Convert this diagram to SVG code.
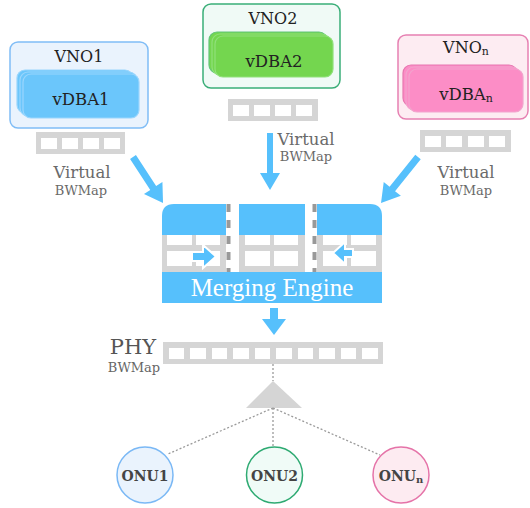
<svg xmlns="http://www.w3.org/2000/svg" width="530" height="508" viewBox="0 0 530 508">
<style>
.lbl{font-family:"DejaVu Serif","Liberation Serif",serif;fill:#222;text-anchor:middle}
.vt{font-family:"DejaVu Serif","Liberation Serif",serif;fill:#6a6a6a;text-anchor:middle}
.bm{fill:#d5d5d5}
.cell{fill:#fff}
.blue{fill:#56c0fc}
.dot{stroke:#9a9a9a;stroke-width:1.3;stroke-dasharray:2 2;fill:none}
.onu{font-family:"DejaVu Serif","Liberation Serif",serif;font-weight:bold;font-size:14px;fill:#444;text-anchor:middle}
</style>
<rect width="530" height="508" fill="#fff"/>

<g id="vno1">
<rect x="10" y="42" width="138" height="86" rx="8" fill="#eaf3fd" stroke="#80bdf6" stroke-width="1.5"/>
<text class="lbl" x="79" y="62" font-size="16">VNO1</text>
<rect x="17" y="70" width="116" height="43" rx="8" fill="#6bc6fb" stroke="#9ad6fd" stroke-width="1.2"/>
<rect x="20" y="72" width="117" height="44" rx="8" fill="#6bc6fb" stroke="#9ad6fd" stroke-width="1.2"/>
<rect x="23" y="74" width="116" height="44" rx="8" fill="#6bc6fb" stroke="#9ad6fd" stroke-width="1.2"/>
<text class="lbl" x="81" y="105" font-size="16.5">vDBA1</text>
</g>

<g id="vno2">
<rect x="203" y="4" width="137" height="84" rx="8" fill="#f0faf6" stroke="#3aae78" stroke-width="1.5"/>
<text class="lbl" x="273" y="24" font-size="16">VNO2</text>
<rect x="209" y="32" width="118" height="41" rx="8" fill="#74d64f" stroke="#63c47a" stroke-width="1.2"/>
<rect x="212" y="34" width="118" height="41" rx="8" fill="#74d64f" stroke="#8fe07a" stroke-width="1.2"/>
<rect x="215" y="36" width="118" height="41" rx="8" fill="#74d64f" stroke="#8fe07a" stroke-width="1.2"/>
<text class="lbl" x="274" y="67" font-size="16.5">vDBA2</text>
</g>

<g id="vnon">
<rect x="398" y="35" width="130" height="84" rx="8" fill="#fdecf2" stroke="#e680b2" stroke-width="1.5"/>
<text class="lbl" x="466" y="53" font-size="16">VNO<tspan font-size="11" dy="2">n</tspan></text>
<rect x="403" y="65" width="114" height="41" rx="8" fill="#fc8dc6" stroke="#e677b0" stroke-width="1.2"/>
<rect x="406" y="67" width="114" height="43" rx="8" fill="#fc8dc6" stroke="#f2a3cd" stroke-width="1.2"/>
<rect x="409" y="69" width="114" height="43" rx="8" fill="#fc8dc6" stroke="#f2a3cd" stroke-width="1.2"/>
<text class="lbl" x="466" y="100" font-size="16.5">vDBA<tspan font-size="11" dy="2">n</tspan></text>
</g>

<g id="bwmap1">
<rect class="bm" x="36" y="132" width="89" height="22"/>
<rect class="cell" x="41" y="138" width="16" height="11"/>
<rect class="cell" x="62" y="138" width="16" height="11"/>
<rect class="cell" x="83" y="138" width="16" height="11"/>
<rect class="cell" x="104" y="138" width="16" height="11"/>
<text class="vt" x="82" y="178" font-size="16.5">Virtual</text>
<text class="vt" x="81" y="195" font-size="13">BWMap</text>
</g>

<g id="bwmap2">
<rect class="bm" x="228" y="99" width="90" height="22"/>
<rect class="cell" x="233" y="105" width="16" height="11"/>
<rect class="cell" x="254" y="105" width="16" height="11"/>
<rect class="cell" x="275" y="105" width="16" height="11"/>
<rect class="cell" x="296" y="105" width="16" height="11"/>
<text class="vt" x="306" y="145" font-size="16.5">Virtual</text>
<text class="vt" x="306" y="161" font-size="13">BWMap</text>
</g>

<g id="bwmapn">
<rect class="bm" x="420" y="130" width="91" height="22"/>
<rect class="cell" x="425" y="136" width="16" height="11"/>
<rect class="cell" x="446" y="136" width="16" height="11"/>
<rect class="cell" x="468" y="136" width="16" height="11"/>
<rect class="cell" x="489" y="136" width="16" height="11"/>
<text class="vt" x="466" y="178" font-size="16.5">Virtual</text>
<text class="vt" x="466" y="195" font-size="13">BWMap</text>
</g>

<g id="merging-engine">
<!-- grid sections -->
<rect class="bm" x="162" y="234" width="64" height="38"/>
<rect class="bm" x="239" y="234" width="66" height="38"/>
<rect class="bm" x="317" y="234" width="65" height="38"/>
<g class="cell">
<rect x="167" y="234" width="25" height="11"/><rect x="196" y="234" width="24" height="11"/>
<rect x="167" y="251" width="25" height="15"/><rect x="196" y="251" width="24" height="15"/>
<rect x="245" y="234" width="25" height="11"/><rect x="274" y="234" width="24" height="11"/>
<rect x="245" y="251" width="25" height="15"/><rect x="274" y="251" width="24" height="15"/>
<rect x="323" y="234" width="24" height="11"/><rect x="351" y="234" width="25" height="11"/>
<rect x="323" y="251" width="24" height="15"/><rect x="351" y="251" width="25" height="15"/>
</g>
<path class="blue" d="M162,235 V216 Q162,204 174,204 H226 V235 Z"/>
<rect class="blue" x="239" y="204" width="66" height="31"/>
<path class="blue" d="M317,204 H370 Q382,204 382,216 V235 H317 Z"/>
<line x1="228.5" y1="204" x2="228.5" y2="272" stroke="#999" stroke-width="4" stroke-dasharray="8 8"/>
<line x1="314.5" y1="204" x2="314.5" y2="272" stroke="#999" stroke-width="4" stroke-dasharray="8 8"/>
<path class="blue" d="M192,252 H203 V245 L216,256.5 L203,268 V261 H192 Z" stroke="#fff" stroke-width="2"/>
<path class="blue" d="M353,249 H345 V242 L333,253 L345,264 V257 H353 Z" stroke="#fff" stroke-width="2"/>
<rect class="blue" x="162" y="272" width="220" height="31"/>
<text x="272" y="296" font-family="Liberation Serif, serif" font-size="25" fill="#fff" text-anchor="middle">Merging Engine</text>
</g>

<g id="phy-bwmap">
<text x="133" y="354" font-family="DejaVu Serif, Liberation Serif, serif" font-size="21" fill="#555" text-anchor="middle">PHY</text>
<text x="134" y="372" font-family="DejaVu Serif, Liberation Serif, serif" font-size="13" fill="#666" text-anchor="middle">BWMap</text>
<rect class="bm" x="163" y="342" width="220" height="22"/>
<g class="cell">
<rect x="169" y="348" width="15" height="11"/><rect x="190" y="348" width="16" height="11"/>
<rect x="212" y="348" width="15" height="11"/><rect x="233" y="348" width="16" height="11"/>
<rect x="255" y="348" width="15" height="11"/><rect x="276" y="348" width="16" height="11"/>
<rect x="298" y="348" width="15" height="11"/><rect x="319" y="348" width="16" height="11"/>
<rect x="341" y="348" width="15" height="11"/><rect x="362" y="348" width="16" height="11"/>
</g>
</g>

<g id="splitter">
<polygon points="273,381 302,408 246,408" fill="#d5d5d5"/>
</g>

<g id="onu1">
<circle cx="145" cy="475" r="28" fill="#eaf3fd" stroke="#7ab8f5" stroke-width="1.5"/>
<text class="onu" x="145" y="481">ONU1</text>
</g>
<g id="onu2">
<circle cx="274.5" cy="475" r="28" fill="#f0fbf7" stroke="#2eaa72" stroke-width="1.5"/>
<text class="onu" x="274.5" y="481">ONU2</text>
</g>
<g id="onun">
<circle cx="401" cy="475" r="28" fill="#fdebf1" stroke="#e573a8" stroke-width="1.5"/>
<text class="onu" x="401" y="481">ONU<tspan font-size="10" dy="2">n</tspan></text>
</g>

<g id="connectors">
<path class="blue" transform="translate(133,157) rotate(56.9)" d="M0,-3.5 H37 V-11 L55,0 L37,11 V3.5 H0 Z"/>
<path class="blue" transform="translate(270,133) rotate(90)" d="M0,-3 H40 V-10 L57,0 L40,10 V3 H0 Z"/>
<path class="blue" transform="translate(418,157) rotate(128.8)" d="M0,-3.5 H41 V-11 L59,0 L41,11 V3.5 H0 Z"/>
<path class="blue" transform="translate(274,308) rotate(90)" d="M0,-4 H11 V-12 L27,0 L11,12 V4 H0 Z"/>
<line class="dot" x1="273" y1="364" x2="273" y2="381"/>
<line class="dot" x1="273" y1="408" x2="168" y2="454"/>
<line class="dot" x1="273" y1="408" x2="273" y2="447"/>
<line class="dot" x1="273" y1="408" x2="380" y2="455"/>
</g>
</svg>
